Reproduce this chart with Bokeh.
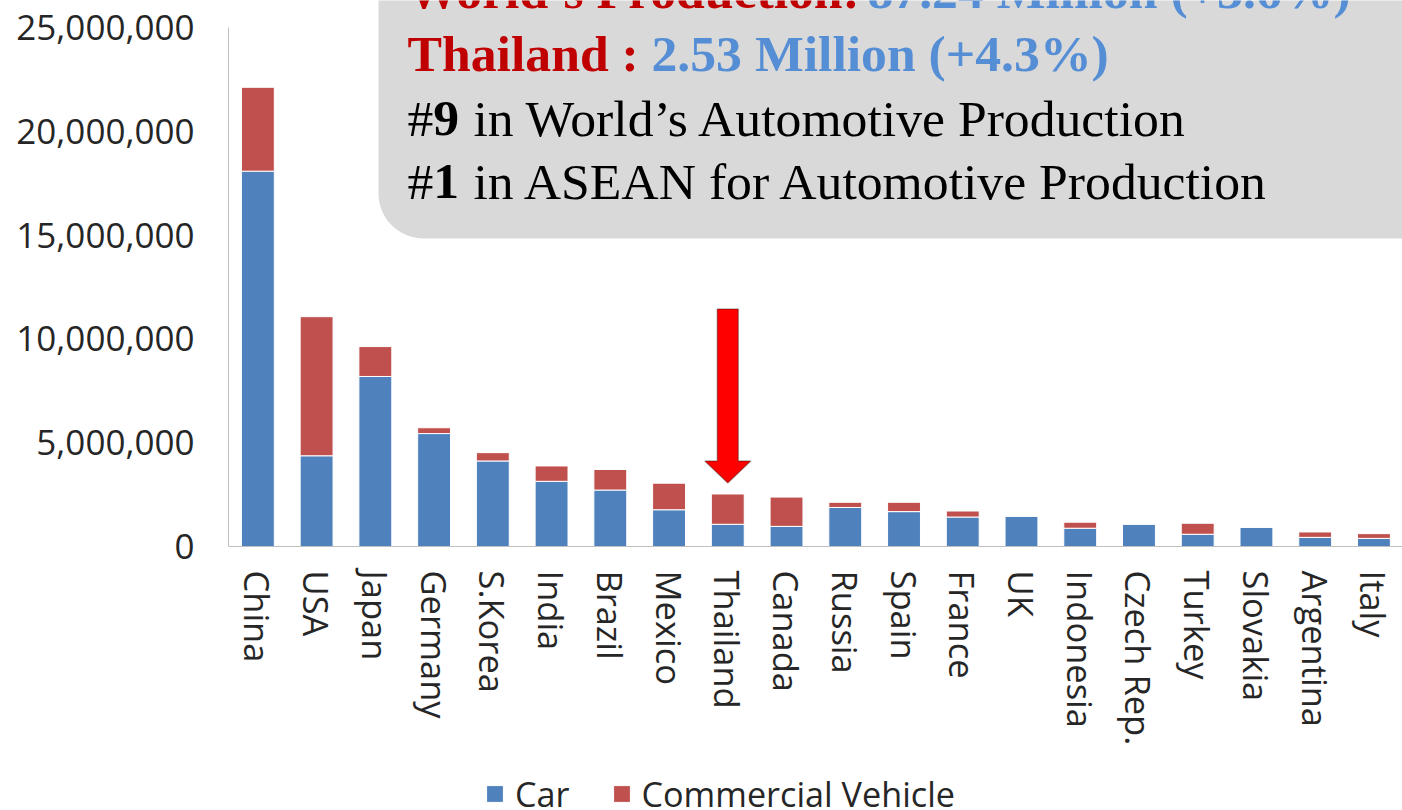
from bokeh.plotting import figure
from bokeh.models import (ColumnDataSource, Range1d, FixedTicker, NumeralTickFormatter,
                          Legend, LegendItem, BoxAnnotation, Label, PolyAnnotation)
from bokeh.embed import file_html
from bokeh.resources import INLINE

# ---------------- data ----------------
countries = ["China", "USA", "Japan", "Germany", "S.Korea", "India", "Brazil", "Mexico",
             "Thailand", "Canada", "Russia", "Spain", "France", "UK", "Indonesia",
             "Czech Rep.", "Turkey", "Slovakia", "Argentina", "Italy"]
car = [18_080_000, 4_370_000, 8_190_000, 5_440_000, 4_120_000, 3_140_000, 2_720_000,
       1_770_000, 1_070_000, 970_000, 1_880_000, 1_680_000, 1_420_000, 1_450_000,
       880_000, 1_080_000, 590_000, 930_000, 440_000, 390_000]
commercial = [4_040_000, 6_700_000, 1_440_000, 280_000, 400_000, 740_000, 990_000,
              1_280_000, 1_460_000, 1_410_000, 250_000, 450_000, 290_000, 20_000,
              290_000, 0, 530_000, 0, 260_000, 230_000]
y_ticks = [0, 5_000_000, 10_000_000, 15_000_000, 20_000_000, 25_000_000]
series_names = ["Car", "Commercial Vehicle"]
series_colors = ["#4F81BD", "#C0504D"]
highlight = "Thailand"

# ---------------- layout ----------------
W, H = 1402, 810
FRAME_L = 228          # frame spans the full canvas height; x axis drawn at y = 0
ZERO_PX = 546          # canvas row of y = 0
PX_PER_CAT = 58.74
PX_TICK_SPAN = 519.0   # pixels from 0 to the top tick
x_start = -0.5
x_end = x_start + (W - FRAME_L) / PX_PER_CAT
y_end = y_ticks[-1] * ZERO_PX / PX_TICK_SPAN
y_start = -y_ticks[-1] * (H - ZERO_PX) / PX_TICK_SPAN
BASE_FIX = 17          # label baseline correction (px)
FS = 51.7              # info-box font size (px)
K = FS / 51.0


def data_x(px):
    return x_start + (px - FRAME_L) / PX_PER_CAT


def data_y(py):
    return (ZERO_PX - py) * y_ticks[-1] / PX_TICK_SPAN


SANS = "Open Sans"
SERIF = "Liberation Serif"
TXT = "#262626"

p = figure(width=W, height=H, x_range=Range1d(x_start, x_end), y_range=Range1d(y_start, y_end),
           output_backend="svg", toolbar_location=None,
           min_border_left=FRAME_L, min_border_right=0, min_border_top=0,
           min_border_bottom=0, outline_line_color=None,
           background_fill_color="white", border_fill_color="white")
p.xgrid.visible = False
p.ygrid.visible = False

source = ColumnDataSource(dict(x=list(range(len(countries))), car=car, commercial=commercial))
rs = p.vbar_stack(["car", "commercial"], x="x", width=0.56, source=source,
                  fill_color=series_colors, line_color="white", line_width=1)

# axes
xa = p.xaxis[0]
xa.fixed_location = 0
xa.ticker = FixedTicker(ticks=list(range(len(countries))))
xa.major_label_overrides = {i: c for i, c in enumerate(countries)}
xa.major_label_orientation = "vertical"
xa.major_tick_line_color = None
xa.minor_tick_line_color = None
xa.major_tick_out = 0
xa.major_tick_in = 0
xa.axis_line_color = "#BFBFBF"
xa.major_label_standoff = 24
xa.major_label_text_font = SANS
xa.major_label_text_font_size = "34.5px"
xa.major_label_text_color = TXT

ya = p.yaxis[0]
ya.ticker = FixedTicker(ticks=y_ticks)
ya.formatter = NumeralTickFormatter(format="0,0")
ya.bounds = (0, y_ticks[-1])
ya.major_tick_line_color = None
ya.minor_tick_line_color = None
ya.major_tick_out = 0
ya.major_tick_in = 0
ya.axis_line_color = "#BFBFBF"
ya.major_label_standoff = 34
ya.major_label_text_font = SANS
ya.major_label_text_font_size = "35px"
ya.major_label_text_color = TXT

# legend (bottom of the frame)
legend = Legend(items=[LegendItem(label=n, renderers=[r]) for n, r in zip(series_names, rs)],
                orientation="horizontal", location=(256, -7),
                label_text_font=SANS, label_text_font_size="34.2px", label_text_color=TXT,
                glyph_width=21, glyph_height=21, spacing=41, label_standoff=10,
                padding=0, margin=0, border_line_color=None, background_fill_alpha=0)
p.add_layout(legend)

# grey info box
box = BoxAnnotation(left=data_x(378), right=data_x(W + 80), top=data_y(-80), bottom=data_y(238),
                    fill_color="#D9D9D9", fill_alpha=1, line_color=None, border_radius=45,
                    level="overlay")
p.add_layout(box)

RED, BLUE, BLACK = "#C00000", "#558ED5", "#000000"
lines = [
    (7, [("World’s Production:", RED, "bold", 0), ("87.24 Million (+3.6%)", BLUE, "bold", 460)]),
    (70, [("Thailand :", RED, "bold", 0), ("2.53 Million (+4.3%)", BLUE, "bold", 244)]),
    (135, [("#", BLACK, "normal", 0), ("9", BLACK, "bold", 25.5 * K),
           ("in World’s Automotive Production", BLACK, "normal", 65 * K)]),
    (198, [("#", BLACK, "normal", 0), ("1", BLACK, "bold", 25.5 * K),
           ("in ASEAN for Automotive Production", BLACK, "normal", 65 * K)]),
]
for base, parts in lines:
    for text, col, style, dxp in parts:
        p.add_layout(Label(x=data_x(407 + dxp), y=data_y(base - BASE_FIX), text=text,
                           text_font=SERIF, text_font_size=f"{FS}px", text_font_style=style,
                           text_color=col, text_baseline="alphabetic", text_align="left",
                           level="overlay"))

# red arrow pointing at the highlighted country
i = countries.index(highlight)
top_val = car[i] + commercial[i]
px_val = y_ticks[-1] / PX_TICK_SPAN  # value per pixel
tip = top_val + 11 * px_val
head_base = tip + 22 * px_val
shaft_top = tip + 174 * px_val
sw = 10.5 / PX_PER_CAT
hw = 23 / PX_PER_CAT
arrow = PolyAnnotation(xs=[i - sw, i + sw, i + sw, i + hw, i, i - hw, i - sw],
                       ys=[shaft_top, shaft_top, head_base, head_base, tip, head_base, head_base],
                       fill_color="#FF0000", fill_alpha=1, line_color="black", line_width=1.5)
p.add_layout(arrow)

open("out.html", "w").write(file_html(p, INLINE))
